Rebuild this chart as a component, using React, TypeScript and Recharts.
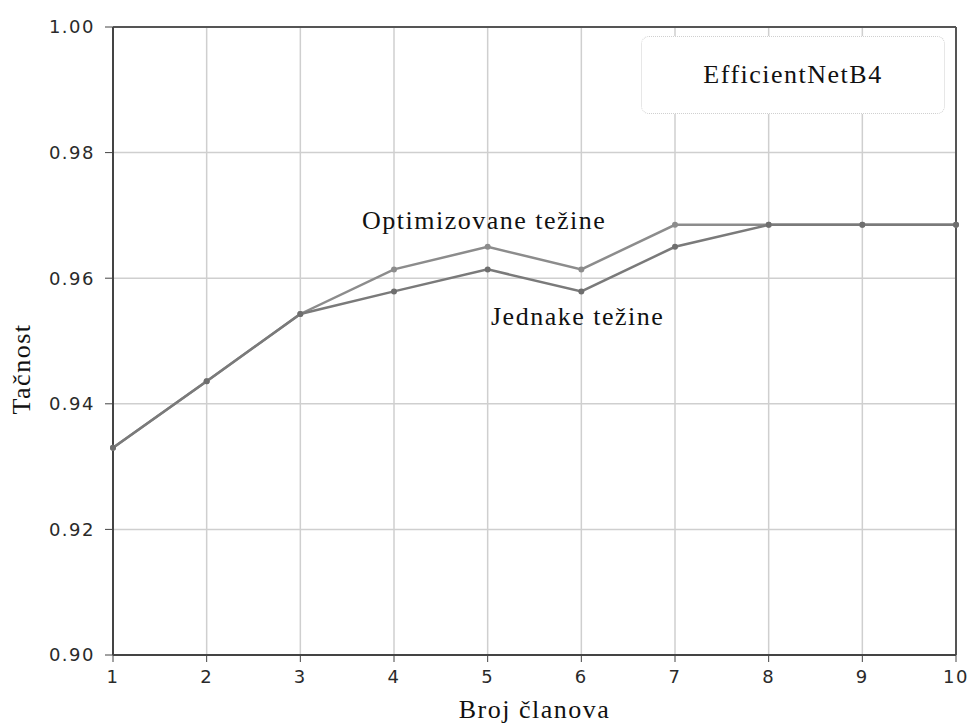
import { LineChart, Line, XAxis, YAxis, CartesianGrid, ReferenceLine } from 'recharts';

const members = [1, 2, 3, 4, 5, 6, 7, 8, 9, 10];
const optimizedWeights = [0.933, 0.9436, 0.9543, 0.9614, 0.965, 0.9614, 0.9685, 0.9685, 0.9685, 0.9685];
const equalWeights = [0.933, 0.9436, 0.9543, 0.9579, 0.9614, 0.9579, 0.965, 0.9685, 0.9685, 0.9685];
const yTicks = [0.9, 0.92, 0.94, 0.96, 0.98, 1.0];

const data = members.map((m, i) => ({
  members: m,
  optimized: optimizedWeights[i],
  equal: equalWeights[i],
}));

const serif = '"Liberation Serif", "DejaVu Serif", serif';
const tickStyle = { fill: '#2a2a2a', fontSize: 18, letterSpacing: 1.5, fontFamily: '"DejaVu Sans", sans-serif' };
const textStyle = { fontFamily: serif, fontSize: 26, letterSpacing: 1.5, color: '#111', whiteSpace: 'nowrap' as const };

const App = () => {
  return (
    <div style={{ position: 'absolute', left: 0, top: 0, width: 971, height: 726, background: '#fff' }}>
      <LineChart width={971} height={726} data={data} margin={{ top: 27, right: 15, bottom: 41, left: 43 }}>
        <CartesianGrid stroke="#cfcfcf" strokeWidth={1.5} />
        <XAxis
          dataKey="members"
          type="number"
          domain={[1, 10]}
          ticks={members}
          tick={tickStyle}
          tickSize={7}
          tickMargin={8}
          tickLine={{ stroke: '#444' }}
          axisLine={{ stroke: '#444', strokeWidth: 2 }}
          height={30}
        />
        <YAxis
          type="number"
          domain={[0.9, 1.0]}
          ticks={yTicks}
          tickFormatter={(v: number) => v.toFixed(2)}
          tick={tickStyle}
          tickSize={8}
          tickMargin={10}
          tickLine={{ stroke: '#444' }}
          axisLine={{ stroke: '#444', strokeWidth: 2 }}
          width={70}
        />
        <ReferenceLine y={1.0} stroke="#555" strokeWidth={2} />
        <ReferenceLine x={10} stroke="#555" strokeWidth={2} />
        <Line
          dataKey="optimized"
          stroke="#8c8c8c"
          strokeWidth={2.5}
          dot={{ r: 3, fill: '#8c8c8c', stroke: 'none' }}
          isAnimationActive={false}
        />
        <Line
          dataKey="equal"
          stroke="#7a7a7a"
          strokeWidth={2.5}
          dot={{ r: 3, fill: '#6e6e6e', stroke: 'none' }}
          isAnimationActive={false}
        />
      </LineChart>

      <div
        style={{
          ...textStyle,
          position: 'absolute', left: 641, top: 36, width: 304, height: 78,
          border: '1.5px dotted #d0d0d0', borderRadius: 8, background: '#fff',
          display: 'flex', alignItems: 'center', justifyContent: 'center',
          boxSizing: 'border-box',
        }}
      >
        EfficientNetB4
      </div>
      <div style={{ ...textStyle, position: 'absolute', left: 362, top: 206 }}>
        Optimizovane težine
      </div>
      <div style={{ ...textStyle, position: 'absolute', left: 491, top: 302 }}>
        Jednake težine
      </div>
      <div style={{ ...textStyle, position: 'absolute', left: 0, width: 971, paddingLeft: 113, paddingRight: 15, boxSizing: 'border-box', top: 695, textAlign: 'center' }}>
        Broj članova
      </div>
      <div
        style={{
          ...textStyle,
          position: 'absolute', left: 22, top: 369, transform: 'translate(-50%, -50%) rotate(-90deg)',
        }}
      >
        Tačnost
      </div>
    </div>
  );
};

export default App;
